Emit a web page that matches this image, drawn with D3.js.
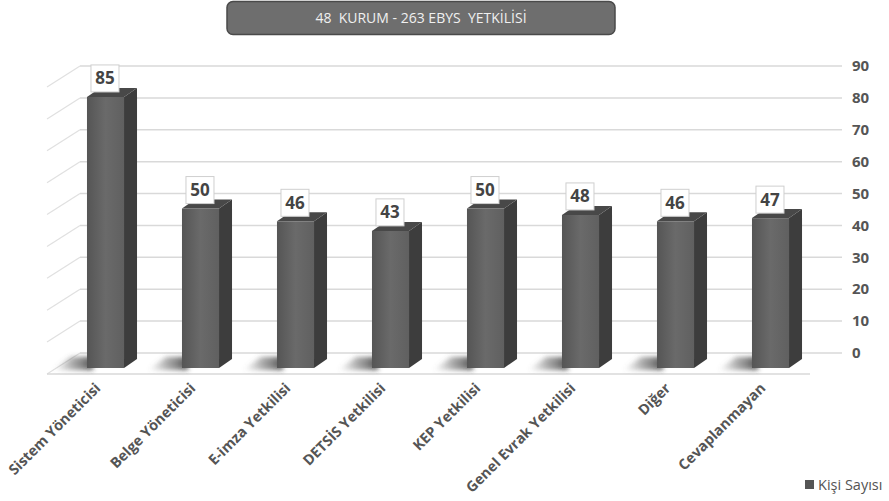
<!DOCTYPE html>
<html>
<head>
<meta charset="utf-8">
<script src="https://cdn.jsdelivr.net/npm/d3@7"></script>
<style>
  body { margin: 0; background: #fff; }
  svg { display: block; font-family: "Open Sans", "Liberation Sans", sans-serif; }
</style>
</head>
<body>
<div id="chart"></div>
<script>
// chart data
const categories = ["Sistem Yöneticisi", "Belge Yöneticisi", "E-imza Yetkilisi", "DETSİS Yetkilisi",
                    "KEP Yetkilisi", "Genel Evrak Yetkilisi", "Diğer", "Cevaplanmayan"];
const values = [85, 50, 46, 43, 50, 48, 46, 47];
const yTicks = [0, 10, 20, 30, 40, 50, 60, 70, 80, 90];
const titleText = "48  KURUM - 263 EBYS  YETKİLİSİ";
const seriesName = "Kişi Sayısı";

const width = 889, height = 501;

// back wall scale
const y = d3.scaleLinear().domain([0, 90]).range([353, 66]);
const x = d3.scaleBand().domain(categories).range([58, 818])
    .paddingInner(0.61).paddingOuter(0.305);

// 3d offsets
const front = 15;          // front face shift down from back wall
const depthX = 13, depthY = -9;
const wallLeft = 80, wallRight = 842;
const sideDx = -33, sideDy = 21;

const svg = d3.select("#chart").append("svg")
    .attr("width", width)
    .attr("height", height)
    .attr("viewBox", [0, 0, width, height]);

const defs = svg.append("defs");
const faceGrad = defs.append("linearGradient").attr("id", "face")
    .attr("x1", 0).attr("x2", 1).attr("y1", 0).attr("y2", 0);
faceGrad.append("stop").attr("offset", "0%").attr("stop-color", "#555");
faceGrad.append("stop").attr("offset", "50%").attr("stop-color", "#6a6a6a");
faceGrad.append("stop").attr("offset", "100%").attr("stop-color", "#606060");

const shadowGrad = defs.append("linearGradient").attr("id", "shadow")
    .attr("x1", 0).attr("x2", 1).attr("y1", 0).attr("y2", 0);
shadowGrad.append("stop").attr("offset", "0%").attr("stop-color", "#777").attr("stop-opacity", 0);
shadowGrad.append("stop").attr("offset", "45%").attr("stop-color", "#555").attr("stop-opacity", 0.45);
shadowGrad.append("stop").attr("offset", "100%").attr("stop-color", "#333").attr("stop-opacity", 0.85);

defs.append("filter").attr("id", "blur")
    .attr("x", "-50%").attr("y", "-50%").attr("width", "200%").attr("height", "200%")
    .append("feGaussianBlur").attr("stdDeviation", 2.5);

// gridlines on back wall + side wall
const grid = svg.append("g");
grid.selectAll("line.back")
    .data(yTicks)
    .join("line")
    .attr("class", "back")
    .attr("x1", wallLeft).attr("x2", wallRight)
    .attr("y1", d => y(d)).attr("y2", d => y(d))
    .attr("stroke", "#d9d9d9").attr("stroke-width", 1.5);
grid.selectAll("line.side")
    .data(yTicks)
    .join("line")
    .attr("class", "side")
    .attr("x1", wallLeft).attr("x2", wallLeft + sideDx)
    .attr("y1", d => y(d)).attr("y2", d => y(d) + sideDy)
    .attr("stroke", "#e0e0e0").attr("stroke-width", 1.2);

// floor front edge
grid.append("line")
    .attr("x1", wallLeft + sideDx).attr("x2", 810)
    .attr("y1", y(0) + sideDy).attr("y2", y(0) + sideDy)
    .attr("stroke", "#d9d9d9").attr("stroke-width", 1.5);

// right axis labels
svg.append("g")
    .selectAll("text")
    .data(yTicks)
    .join("text")
    .attr("x", 852)
    .attr("y", d => y(d))
    .attr("dy", "0.35em")
    .attr("font-size", 15)
    .attr("font-weight", 700)
    .attr("fill", "#555")
    .text(d => d);

// bars
const bars = svg.append("g")
    .selectAll("g")
    .data(categories.map((c, i) => ({c, v: values[i]})))
    .join("g");

const bw = x.bandwidth();
const base = y(0) + front;

// floor shadow, falls to the left
bars.append("path")
    .attr("d", d => {
        const x0 = x(d.c);
        return `M${x0 - 34},${base + 2}L${x0 - 16},${base - 11}L${x0 + 6},${base - 11}L${x0 + 6},${base + 2}Z`;
    })
    .attr("fill", "url(#shadow)")
    .attr("filter", "url(#blur)");

bars.append("rect")
    .attr("x", d => x(d.c))
    .attr("y", d => y(d.v) + front)
    .attr("width", bw)
    .attr("height", d => base - (y(d.v) + front))
    .attr("fill", "url(#face)");

bars.append("path")
    .attr("d", d => {
        const x0 = x(d.c) + bw, t = y(d.v) + front;
        return `M${x0},${t}L${x0 + depthX},${t + depthY}L${x0 + depthX},${base + depthY}L${x0},${base}Z`;
    })
    .attr("fill", "#3d3d3d");

bars.append("path")
    .attr("d", d => {
        const x0 = x(d.c), t = y(d.v) + front;
        return `M${x0},${t}L${x0 + depthX},${t + depthY}L${x0 + bw + depthX},${t + depthY}L${x0 + bw},${t}Z`;
    })
    .attr("fill", "#484848");

// value labels
bars.append("rect")
    .attr("x", d => x(d.c) + 4)
    .attr("y", d => y(d.v) + front - 32)
    .attr("width", 28)
    .attr("height", 27)
    .attr("fill", "#fff")
    .attr("stroke", "#cfcfcf")
    .attr("stroke-width", 1);

bars.append("text")
    .attr("x", d => x(d.c) + 18)
    .attr("y", d => y(d.v) + front - 12.5)
    .attr("text-anchor", "middle")
    .attr("font-size", 17)
    .attr("font-weight", 700)
    .attr("fill", "#444")
    .text(d => d.v);

// category labels
svg.append("g")
    .selectAll("text")
    .data(categories)
    .join("text")
    .attr("transform", d => `translate(${x(d) + bw / 2 - 4},${389}) rotate(-45)`)
    .attr("text-anchor", "end")
    .attr("font-size", 14.5)
    .attr("font-weight", 700)
    .attr("fill", "#555")
    .text(d => d);

// title box
svg.append("rect")
    .attr("x", 227).attr("y", 1.5)
    .attr("width", 388).attr("height", 33)
    .attr("rx", 6)
    .attr("fill", "#6e6e6e")
    .attr("stroke", "#4a4a4a")
    .attr("stroke-width", 1.5);
svg.append("text")
    .attr("x", 421).attr("y", 23)
    .attr("text-anchor", "middle")
    .attr("font-size", 14)
    .attr("fill", "#f0f0f0")
    .style("white-space", "pre")
    .text(titleText);

// legend
svg.append("rect")
    .attr("x", 805).attr("y", 480)
    .attr("width", 9).attr("height", 9)
    .attr("fill", "#555");
svg.append("text")
    .attr("x", 818).attr("y", 490)
    .attr("font-size", 14.5)
    .attr("fill", "#555")
    .text(seriesName);
</script>
</body>
</html>
